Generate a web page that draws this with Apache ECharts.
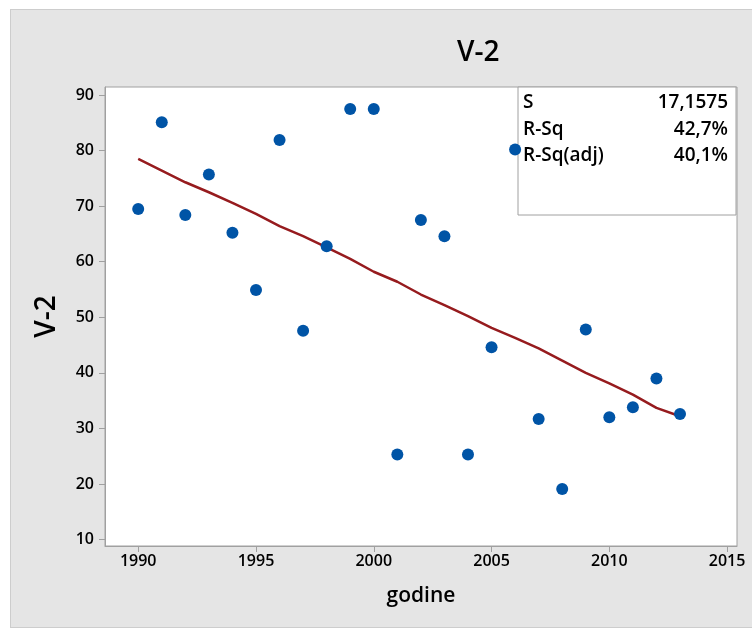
<!DOCTYPE html>
<html>
<head>
<meta charset="utf-8">
<script src="https://cdn.jsdelivr.net/npm/echarts@6/dist/echarts.min.js"></script>
<style>
    html, body { margin: 0; padding: 0; background: #ffffff; }
    #panel {
        position: absolute; left: 10px; top: 9px; width: 760px; height: 617px;
        background: #e5e5e5; border: 1px solid #cdcdcd;
    }
    #scatter { position: absolute; left: 0; top: 0; width: 752px; height: 628px; }
</style>
</head>
<body>
<div id="panel"></div>
<div id="scatter"></div>
<script>
// godine (years) and V-2 values
let years = [1990, 1991, 1992, 1993, 1994, 1995, 1996, 1997, 1998, 1999, 2000, 2001,
             2002, 2003, 2004, 2005, 2006, 2007, 2008, 2009, 2010, 2011, 2012, 2013];
let values = [69.5, 85.1, 68.4, 75.7, 65.2, 54.9, 81.9, 47.6, 62.8, 87.5, 87.5, 25.3,
              67.5, 64.6, 25.3, 44.6, 80.2, 31.7, 19.1, 47.8, 32.0, 33.8, 39.0, 32.6];
// fitted line, one point per year
let fitValues = [78.5, 76.4, 74.3, 72.5, 70.6, 68.6, 66.4, 64.6, 62.6, 60.5, 58.2, 56.4,
                 54.1, 52.2, 50.2, 48.1, 46.3, 44.4, 42.2, 40.0, 38.1, 36.1, 33.7, 32.2];

let x_ticks = [1990, 1995, 2000, 2005, 2010, 2015];
let y_ticks = [10, 20, 30, 40, 50, 60, 70, 80, 90];

let stat_names = ['S', 'R-Sq', 'R-Sq(adj)'];
let stat_values = ['17,1575', '42,7%', '40,1%'];

function drawScatter(){
    let my_chart = echarts.init(document.getElementById('scatter'));

    let font = '"Open Sans", "Noto Sans", sans-serif';
    let axis_color = '#a0a0a0';

    let point_data = years.map((y, i) => [y, values[i]]);
    let fit_data = years.map((y, i) => [y, fitValues[i]]);

    let stat_items = [{
        type: 'rect',
        shape: {x: 518, y: 87, width: 218, height: 128},
        style: {fill: '#ffffff', stroke: axis_color, lineWidth: 1}
    }];
    stat_names.forEach(function(name, i){
        stat_items.push({
            type: 'text',
            style: {x: 523, y: 103 + i * 26.5, text: name, font: '600 19px ' + font,
                    fill: '#000', textVerticalAlign: 'middle', textAlign: 'left'}
        });
        stat_items.push({
            type: 'text',
            style: {x: 728, y: 103 + i * 26.5, text: stat_values[i], font: '600 19px ' + font,
                    fill: '#000', textVerticalAlign: 'middle', textAlign: 'right'}
        });
    });

    let option = {
        animation: false,
        textStyle: {fontFamily: font},
        title: {
            text: 'V-2',
            left: 452,
            top: 34,
            textStyle: {fontSize: 28, fontWeight: 600, color: '#000', fontFamily: font}
        },
        grid: {
            left: 105,
            top: 87,
            right: 15,
            bottom: 82,
            show: true,
            backgroundColor: '#ffffff',
            borderColor: axis_color,
            borderWidth: 1
        },
        xAxis: {
            type: 'value',
            min: 1988.59,
            max: 2015.42,
            name: 'godine',
            nameLocation: 'middle',
            nameGap: 40,
            nameTextStyle: {fontSize: 21, color: '#000', fontWeight: 600},
            axisLine: {show: true, lineStyle: {color: axis_color}},
            axisTick: {show: true, inside: false, length: 6, customValues: x_ticks, lineStyle: {color: axis_color}},
            axisLabel: {
                customValues: x_ticks,
                formatter: function(v){ return String(v); },
                fontSize: 16, fontWeight: 600, color: '#000', margin: 7
            },
            splitLine: {show: false}
        },
        yAxis: {
            type: 'value',
            min: 8.85,
            max: 91.44,
            name: 'V-2',
            nameLocation: 'middle',
            nameGap: 44,
            nameTextStyle: {fontSize: 28, color: '#000', fontWeight: 600},
            axisLine: {show: true, lineStyle: {color: axis_color}},
            axisTick: {show: true, inside: false, length: 6, customValues: y_ticks, lineStyle: {color: axis_color}},
            axisLabel: {
                customValues: y_ticks,
                formatter: function(v){ return String(v); },
                fontSize: 16, fontWeight: 600, color: '#000', margin: 11
            },
            splitLine: {show: false}
        },
        graphic: stat_items,
        series: [
            {
                name: 'fit',
                type: 'line',
                data: fit_data,
                symbol: 'none',
                smooth: false,
                lineStyle: {color: '#961b1e', width: 2.5},
                z: 2
            },
            {
                name: 'V-2',
                type: 'scatter',
                data: point_data,
                symbolSize: 12,
                itemStyle: {color: '#0054a6', opacity: 1},
                z: 3
            }
        ]
    };

    my_chart.setOption(option);
}

drawScatter();
</script>
</body>
</html>
